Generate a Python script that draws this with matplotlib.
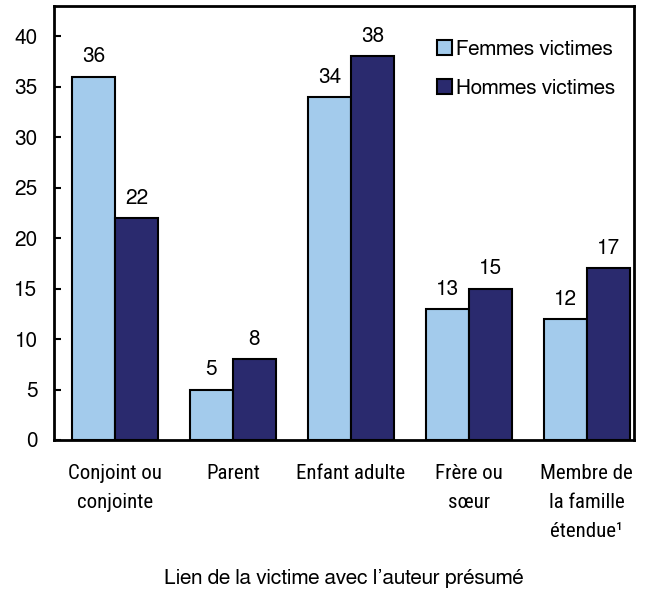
import matplotlib.pyplot as plt
import numpy as np

categories = ['Conjoint ou\nconjointe', 'Parent', 'Enfant adulte', 'Frère ou\nsœur',
              'Membre de\nla famille\nétendue¹']
femmes = [36, 5, 34, 13, 12]
hommes = [22, 8, 38, 15, 17]

light = '#a3cbec'
dark = '#2a2a6e'

plt.rcParams['font.family'] = ['FreeSans', 'Liberation Sans', 'DejaVu Sans']
narrow = ['Roboto Condensed', 'DejaVu Sans']

fig = plt.figure(figsize=(6.52, 5.91), dpi=100)
ax = fig.add_axes([0.083, 0.2555, 0.889, 0.7345])

x = np.arange(len(categories))
w = 0.364
ax.bar(x - w / 2, femmes, w, color=light, edgecolor='black', linewidth=1.5,
       label='Femmes victimes')
ax.bar(x + w / 2, hommes, w, color=dark, edgecolor='black', linewidth=1.5,
       label='Hommes victimes')

for i in range(len(categories)):
    ax.text(x[i] - w / 2, femmes[i] + 1.0, str(femmes[i]), ha='center', va='bottom', fontsize=15)
    ax.text(x[i] + w / 2, hommes[i] + 1.0, str(hommes[i]), ha='center', va='bottom', fontsize=15)

ax.set_ylim(0, 43)
ax.set_xlim(-0.517, 4.4)
ax.set_yticks(range(0, 41, 5))
ax.tick_params(axis='y', direction='in', length=5, width=1.5, labelsize=15, pad=12)
ax.tick_params(axis='x', length=0, pad=17)
ax.set_xticks(x)
ax.set_xticklabels(categories, fontsize=15, family=narrow, linespacing=1.68)
for s in ax.spines.values():
    s.set_linewidth(2)

ax.set_xlabel('Lien de la victime avec l’auteur présumé', fontsize=15, labelpad=20)

ax.legend(loc='upper right', bbox_to_anchor=(1.0, 0.965), frameon=False, fontsize=15,
          handlelength=0.7, handleheight=0.7, handletextpad=0.2, labelspacing=0.95)

fig.savefig('out.png', dpi=100)
